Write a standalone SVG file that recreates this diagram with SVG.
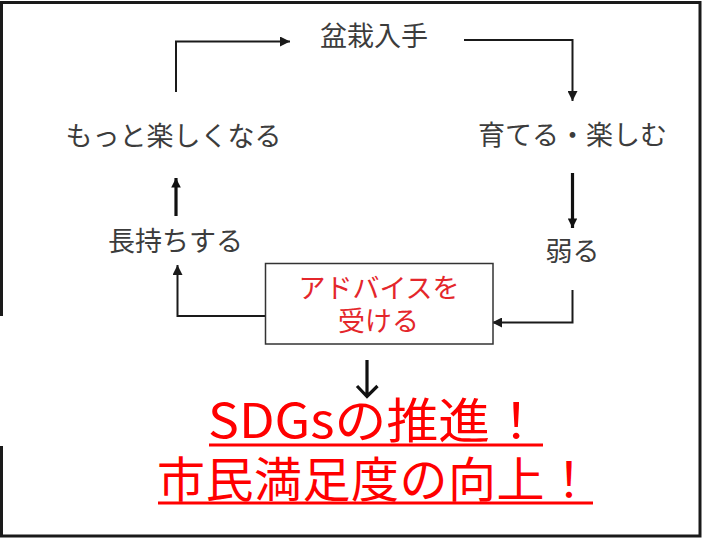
<svg xmlns="http://www.w3.org/2000/svg" width="702" height="538" viewBox="0 0 702 538">
<style>
.lbl{font-family:"Noto Sans CJK JP","Noto Sans",sans-serif;font-size:27px;fill:#3c3c3c;text-anchor:middle}
.red{fill:#e4262b}
.ttl{font-family:"Noto Sans CJK JP","Noto Sans",sans-serif;font-size:48px;fill:#ff0000}
.c{fill:none;stroke:#1a1a1a;stroke-width:2}
.ct{fill:none;stroke:#111;stroke-width:3.2}
.frame{fill:none;stroke:#1a1a1a;stroke-width:3}
.ul{stroke:#ff0000;stroke-width:3}
</style>
<defs>
<marker id="ah" viewBox="0 0 10 10" refX="10" refY="5" markerWidth="5" markerHeight="5" orient="auto" markerUnits="strokeWidth">
<path d="M0,0 L10,5 L0,10 z" fill="#1a1a1a"/>
</marker>
<marker id="aht" viewBox="0 0 10 10" refX="10" refY="5" markerWidth="3" markerHeight="3" orient="auto" markerUnits="strokeWidth">
<path d="M0,0 L10,5 L0,10 z" fill="#111"/>
</marker>
</defs>
<rect width="702" height="538" fill="#fff"/>
<g id="frame" class="frame">
<path d="M1.5,316 V2.5 H700 V536 H1.5 V446"/>
</g>
<g id="connectors">
<path class="c" d="M176,92 V41.5 H290" marker-end="url(#ah)"/>
<path class="c" d="M464,40 H572.5 V101" marker-end="url(#ah)"/>
<path class="ct" d="M572.5,173 V228" marker-end="url(#aht)"/>
<path class="c" d="M572.5,290 V322.5 H492" marker-end="url(#ah)"/>
<path class="c" d="M266,316 H177.5 V265" marker-end="url(#ah)"/>
<path class="ct" d="M176,216 V178" marker-end="url(#aht)"/>
<path class="ct" d="M367,360 V396 M357,386 L367,396.5 L377.5,386"/>
</g>
<g id="n1"><text class="lbl" x="374" y="46">盆栽入手</text></g>
<g id="n2"><text class="lbl" x="572.5" y="145">育てる・楽しむ</text></g>
<g id="n3"><text class="lbl" x="572.5" y="261">弱る</text></g>
<g id="n4">
<rect x="265.5" y="263.5" width="227.5" height="80.5" fill="#fff" stroke="#333" stroke-width="1.5"/>
<text class="lbl red"><tspan x="379" y="298">アドバイスを</tspan><tspan x="378.5" y="331">受ける</tspan></text>
</g>
<g id="n5"><text class="lbl" x="175.5" y="251">長持ちする</text></g>
<g id="n6"><text class="lbl" x="173.5" y="146">もっと楽しくなる</text></g>
<g id="goal">
<text class="ttl"><tspan x="208" y="438" textLength="334" lengthAdjust="spacingAndGlyphs">SDGsの推進！</tspan><tspan x="157" y="497" textLength="436" lengthAdjust="spacing">市民満足度の向上！</tspan></text>
<line class="ul" x1="209" y1="445" x2="543" y2="445"/>
<line class="ul" x1="158" y1="503" x2="593" y2="503"/>
</g>
</svg>
